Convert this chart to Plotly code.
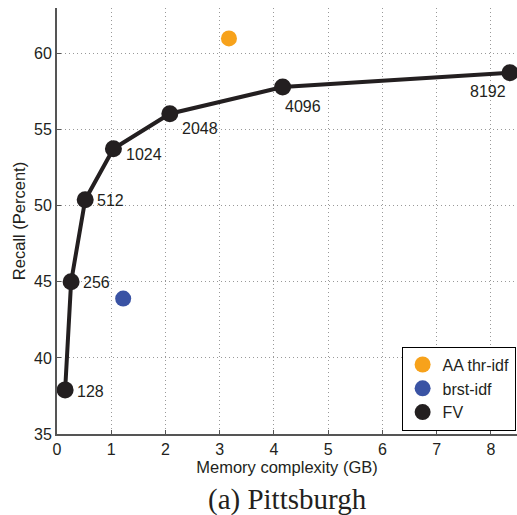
import plotly.graph_objects as go

# Data
fv_labels = ["128", "256", "512", "1024", "2048", "4096", "8192"]
fv_memory = [0.15, 0.26, 0.52, 1.04, 2.08, 4.16, 8.35]
fv_recall = [37.9, 45.0, 50.4, 53.75, 56.05, 57.8, 58.75]
aa_memory = [3.17]
aa_recall = [61.0]
brst_memory = [1.22]
brst_recall = [43.9]
x_ticks = [0, 1, 2, 3, 4, 5, 6, 7, 8]
y_ticks = [35, 40, 45, 50, 55, 60]

FONT = "Liberation Sans, Arial, Helvetica, sans-serif"
SERIF = "Liberation Serif"

fig = go.Figure()

fig.add_trace(go.Scatter(
    x=aa_memory, y=aa_recall, mode="markers", name="AA thr-idf",
    marker=dict(color="#F7A21B", size=16, line=dict(width=0)),
))
fig.add_trace(go.Scatter(
    x=brst_memory, y=brst_recall, mode="markers", name="brst-idf",
    marker=dict(color="#3A53A4", size=16, line=dict(width=0)),
))
fig.add_trace(go.Scatter(
    x=fv_memory, y=fv_recall, mode="lines", showlegend=False,
    line=dict(color="#231F20", width=4),
))
fig.add_trace(go.Scatter(
    x=fv_memory, y=fv_recall, mode="markers", name="FV",
    marker=dict(color="#231F20", size=17, line=dict(width=0)),
))

# point labels: (xshift, yshift, xanchor)
offsets = [(10, -2, "left"), (10, -1, "left"), (10, -1, "left"),
           (11, -6, "left"), (10, -15, "left"), (0, -19, "left"),
           (-2, -19, "right")]
for lab, xv, yv, (dx, dy, xa) in zip(fv_labels, fv_memory, fv_recall, offsets):
    fig.add_annotation(x=xv, y=yv, text=lab, showarrow=False,
                       xshift=dx, yshift=dy, xanchor=xa, yanchor="middle",
                       font=dict(family=FONT, size=16, color="#231F20"))

fig.add_annotation(x=0.5, y=-0.11, xref="paper", yref="paper",
                   text="(a) Pittsburgh", showarrow=False,
                   xanchor="center", yanchor="top",
                   font=dict(family=SERIF, size=29, color="#231F20"))

fig.update_layout(
    width=517, height=515,
    margin=dict(l=57, r=0, t=8, b=81),
    paper_bgcolor="white", plot_bgcolor="white",
    font=dict(family=FONT, size=15, color="#231F20"),
    legend=dict(x=0.997, y=0.008, xanchor="right", yanchor="bottom",
                bgcolor="white", bordercolor="black", borderwidth=1,
                font=dict(family=FONT, size=16, color="#231F20"),
                itemsizing="trace", tracegroupgap=0),
)
fig.update_xaxes(
    range=[0, 8.48], tickvals=x_ticks, ticks="inside", ticklen=4,
    tickcolor="#555", showline=True, linecolor="#555", linewidth=2,
    showgrid=True, gridcolor="#999", griddash="1px,3px", gridwidth=1,
    zeroline=False, mirror=False,
    title=dict(text="Memory complexity (GB)", standoff=1,
               font=dict(family=FONT, size=16.5)),
    tickfont=dict(size=16),
)
fig.update_yaxes(
    range=[35, 63], tickvals=y_ticks, ticks="inside", ticklen=4,
    tickcolor="#555", showline=True, linecolor="#555", linewidth=2,
    showgrid=True, gridcolor="#999", griddash="1px,3px", gridwidth=1,
    zeroline=False, mirror=False,
    title=dict(text="Recall (Percent)", standoff=4,
               font=dict(family=FONT, size=16.5)),
    tickfont=dict(size=16),
)

fig.write_html("out.html", config={"displayModeBar": False},
               post_script="document.body.style.margin='0';document.body.style.overflow='hidden';")
